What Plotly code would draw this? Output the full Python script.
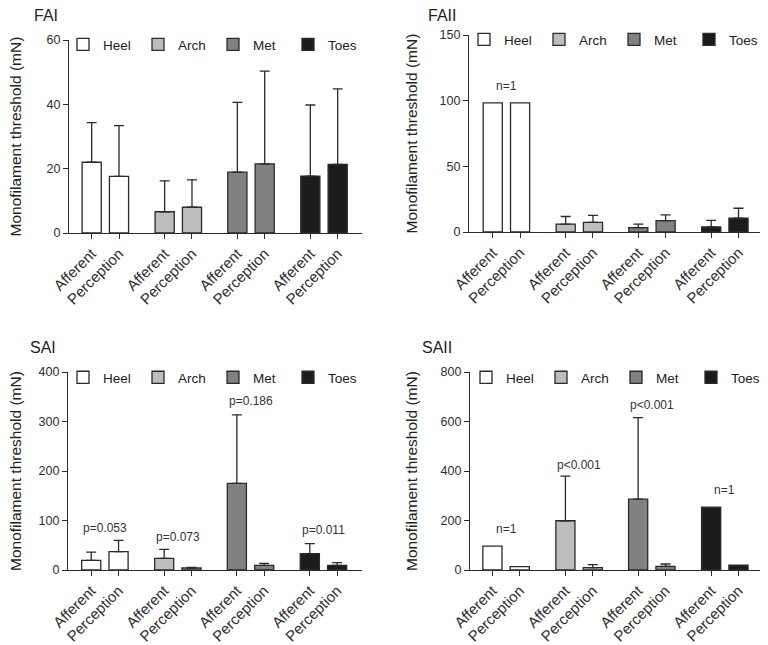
import plotly.graph_objects as go

# data (mN)
sites = ["Heel", "Arch", "Met", "Toes"]
conditions = ["Afferent", "Perception"]
site_colors = ["#ffffff", "#bdbdbf", "#818184", "#1d1b1d"]

panels = ["FAI", "FAII", "SAI", "SAII"]

# mean values per site, [afferent, perception]
fai_mean = [[22.0, 17.6], [6.6, 8.0], [18.9, 21.5], [17.7, 21.3]]
fai_err = [[12.3, 15.8], [9.6, 8.5], [21.7, 28.8], [22.1, 23.5]]

faii_mean = [[98.3, 98.3], [6.0, 7.3], [3.3, 8.6], [3.8, 10.6]]
faii_err = [[0, 0], [5.8, 5.3], [2.7, 4.5], [5.0, 7.5]]

sai_mean = [[19.5, 37.0], [23.5, 4.0], [174.8, 9.4], [33.0, 9.4]]
sai_err = [[16.8, 22.8], [18.2, 1.4], [138.5, 4.0], [20.1, 5.4]]

saii_mean = [[96.8, 13.4], [199.0, 9.4], [286.0, 14.8], [254.0, 20.0]]
saii_err = [[0, 0], [180.0, 12.1], [330.0, 9.4], [0, 0]]

# bar slot positions (two bars per site, gap between sites)
positions = [[0, 1], [2.67, 3.67], [5.33, 6.33], [8, 9]]

y_max = [60, 150, 400, 800]
y_dtick = [20, 50, 100, 200]

# annotations: (panel, site index, y value, text)
notes = [
    (1, 0, 111, "n=1"),
    (2, 0, 84, "p=0.053"),
    (2, 1, 66, "p=0.073"),
    (2, 2, 341, "p=0.186"),
    (2, 3, 80, "p=0.011"),
    (3, 0, 167, "n=1"),
    (3, 1, 425, "p<0.001"),
    (3, 2, 665, "p<0.001"),
    (3, 3, 323, "n=1"),
]

means = [fai_mean, faii_mean, sai_mean, saii_mean]
errs = [fai_err, faii_err, sai_err, saii_err]

# the page body has an 8px margin, so the figure is drawn 8px smaller
OFF = 8
W, H = 768 - OFF, 645 - OFF


def px(sx):
    return (sx - OFF) / W


def py(sy):
    return 1 - (sy - OFF) / H


# plot areas in screen pixels: left, right, top, bottom
boxes = [(69, 362, 40, 233), (469, 768, 35, 232), (68, 362, 372, 570), (470, 768, 372, 570)]
x_ranges = [[-0.83, 9.89], [-0.87, 10.08], [-0.85, 9.91], [-0.82, 10.08]]
legend_pos = [(63, 29), (464, 24), (63, 362), (466, 362)]
title_pos = [(32, 16), (426, 16), (28, 347), (420, 347)]
ytitle_x = [15, 411, 15, 411]

FONT = "Liberation Sans, Arial, sans-serif"
INK = "#2b2b2b"

fig = go.Figure()

for p in range(4):
    ax = "" if p == 0 else str(p + 1)
    for s, site in enumerate(sites):
        e = errs[p][s]
        fig.add_trace(go.Bar(
            x=positions[s], y=means[p][s], name=site,
            width=0.7,
            marker=dict(color=site_colors[s], line=dict(color=INK, width=1.3)),
            error_y=dict(type="data", array=e, symmetric=False, arrayminus=[0, 0],
                         visible=any(v > 0 for v in e), color=INK, thickness=1.3, width=5),
            xaxis="x" + ax, yaxis="y" + ax,
            legend="legend" + ax, showlegend=True,
        ))

annotations = []
for p in range(4):
    l, r, t, b = boxes[p]
    ax = "" if p == 0 else str(p + 1)
    fig.layout["xaxis" + ax] = dict(
        domain=[px(l), min(px(r), 1)], range=x_ranges[p], anchor="y" + ax,
        tickmode="array",
        tickvals=[v for pair in positions for v in pair],
        ticktext=conditions * 4,
        tickangle=-45, ticks="outside", ticklen=5, tickwidth=1.2, tickcolor=INK,
        showline=True, linecolor=INK, linewidth=1.2, showgrid=False, zeroline=False,
        tickfont=dict(family=FONT, size=15, color="#2e2e2e"),
    )
    fig.layout["yaxis" + ax] = dict(
        domain=[py(b), py(t)], range=[0, y_max[p]], anchor="x" + ax,
        dtick=y_dtick[p], ticks="outside", ticklen=5, tickwidth=1.2, tickcolor=INK,
        showline=True, linecolor=INK, linewidth=1.2, showgrid=False, zeroline=False,
        tickfont=dict(family=FONT, size=12.5, color="#2e2e2e"),
    )
    lx, ly = legend_pos[p]
    fig.layout["legend" + ax] = dict(
        orientation="h", x=px(lx), xanchor="left", y=py(ly), yanchor="top",
        entrywidth=30, entrywidthmode="pixels", bgcolor="rgba(0,0,0,0)",
        font=dict(family=FONT, size=13.5, color="#222222"), itemclick=False,
    )
    # panel title
    tx, ty = title_pos[p]
    annotations.append(dict(
        text=panels[p], xref="paper", yref="paper",
        x=px(tx), y=py(ty), xanchor="left", yanchor="middle",
        showarrow=False, font=dict(family=FONT, size=16, color="#222222"),
    ))
    # y axis title
    annotations.append(dict(
        text="Monofilament threshold (mN)", xref="paper", yref="paper",
        x=px(ytitle_x[p]), y=py((t + b) / 2), xanchor="center", yanchor="middle",
        textangle=-90, showarrow=False, font=dict(family=FONT, size=15.5, color="#222222"),
    ))

for p, s, yv, txt in notes:
    ax = "" if p == 0 else str(p + 1)
    annotations.append(dict(
        text=txt, x=sum(positions[s]) / 2, y=yv, xref="x" + ax, yref="y" + ax,
        showarrow=False, font=dict(family=FONT, size=12, color="#333333"),
    ))

fig.update_layout(
    width=W, height=H,
    margin=dict(l=0, r=0, t=0, b=0, autoexpand=False),
    paper_bgcolor="white", plot_bgcolor="white",
    barmode="overlay", annotations=annotations,
)

fig.write_html("out.html")
